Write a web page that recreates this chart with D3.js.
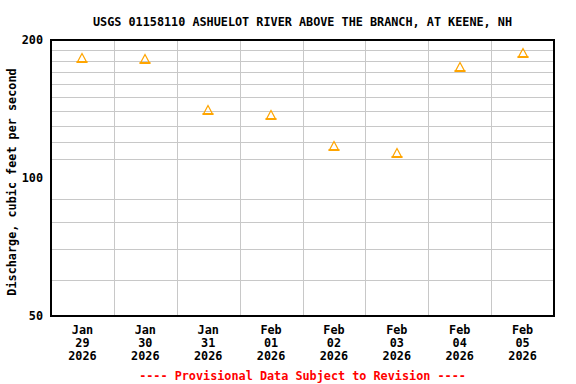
<!DOCTYPE html>
<html>
  <head>
    <title>USGS 01158110</title>
    <script src='https://cdn.jsdelivr.net/npm/d3@7/dist/d3.min.js'></script>
    <style type='text/css'>
      body, html { margin: 0; padding: 0; background: #fff; }
      svg { display: block; }
      text { font-family: 'DejaVu Sans Mono', monospace; font-weight: bold; font-size: 11.8px; }
    </style>
  </head>
  <body>
    <svg width='576' height='384'></svg>
    <script type='text/javascript'>
      // daily mean discharge, cfs
      var months = ['Jan', 'Jan', 'Jan', 'Feb', 'Feb', 'Feb', 'Feb', 'Feb']
      var days = ['29', '30', '31', '01', '02', '03', '04', '05']
      var years = ['2026', '2026', '2026', '2026', '2026', '2026', '2026', '2026']
      var discharge = [183, 181.5, 140.5, 137, 117.5, 113.5, 175, 187]
      var yTicks = [50, 100, 200]
      var yGrid = [60, 70, 80, 90, 110, 120, 130, 140, 150, 160, 170, 180, 190]

      // plot box (window.top is reserved, so use other names)
      var plotL = 51, plotR = 554, plotT = 40, plotB = 316

      var svg = d3.select('svg')

      var x = d3.scaleBand()
        .domain(d3.range(days.length))
        .range([plotL, plotR])
        .padding(0)

      var y = d3.scaleLog()
        .domain([50, 200])
        .range([plotB, plotT])

      // grid
      svg.append('g')
        .attr('shape-rendering', 'crispEdges')
        .selectAll('line')
        .data(yGrid)
        .enter().append('line')
          .attr('x1', plotL).attr('x2', plotR)
          .attr('y1', function(d) { return Math.round(y(d)) + 0.5 })
          .attr('y2', function(d) { return Math.round(y(d)) + 0.5 })
          .attr('stroke', '#c8c8c8')
          .attr('stroke-width', 1)

      svg.append('g')
        .attr('shape-rendering', 'crispEdges')
        .selectAll('line')
        .data(d3.range(1, days.length))
        .enter().append('line')
          .attr('y1', plotT).attr('y2', plotB)
          .attr('x1', function(i) { return Math.round(x(i)) + 0.5 })
          .attr('x2', function(i) { return Math.round(x(i)) + 0.5 })
          .attr('stroke', '#c8c8c8')
          .attr('stroke-width', 1)

      // frame
      svg.append('rect')
        .attr('x', plotL).attr('y', plotT)
        .attr('width', plotR - plotL).attr('height', plotB - plotT)
        .attr('fill', 'none')
        .attr('stroke', '#000')
        .attr('stroke-width', 2)
        .attr('shape-rendering', 'crispEdges')

      // points
      var pts = svg.append('g')
        .selectAll('g')
        .data(discharge)
        .enter().append('g')
          .attr('transform', function(d, i) {
            return 'translate(' + Math.round(x(i) + x.bandwidth() / 2) + ',' + Math.round(y(d)) + ')'
          })

      pts.append('path')
        .attr('d', 'M0,-4.5L4.5,4L-4.5,4Z')
        .attr('fill', 'none')
        .attr('stroke', '#ffa500')
        .attr('stroke-width', 1.2)

      pts.append('line')
        .attr('x1', -5.5).attr('x2', 5.5)
        .attr('y1', 4).attr('y2', 4)
        .attr('stroke', '#ffa500')
        .attr('stroke-width', 2)

      // y tick labels
      svg.append('g')
        .selectAll('text')
        .data(yTicks)
        .enter().append('text')
          .attr('x', 43)
          .attr('y', function(d) { return y(d) + 4 })
          .attr('text-anchor', 'end')
          .text(function(d) { return d })

      // x tick labels
      var xl = svg.append('g')
        .selectAll('text')
        .data(days)
        .enter().append('text')
          .attr('text-anchor', 'middle')
          .attr('transform', function(d, i) { return 'translate(' + (x(i) + x.bandwidth() / 2) + ',0)' })

      xl.append('tspan').attr('x', 0).attr('y', 334).text(function(d, i) { return months[i] })
      xl.append('tspan').attr('x', 0).attr('y', 347).text(function(d) { return d })
      xl.append('tspan').attr('x', 0).attr('y', 360).text(function(d, i) { return years[i] })

      // titles
      svg.append('text')
        .attr('x', (plotL + plotR) / 2)
        .attr('y', 26)
        .attr('text-anchor', 'middle')
        .text('USGS 01158110 ASHUELOT RIVER ABOVE THE BRANCH, AT KEENE, NH')

      svg.append('text')
        .attr('transform', 'translate(16,' + ((plotT + plotB) / 2 + 4) + ') rotate(-90)')
        .attr('text-anchor', 'middle')
        .text('Discharge, cubic feet per second')

      svg.append('text')
        .attr('x', (plotL + plotR) / 2)
        .attr('y', 380)
        .attr('text-anchor', 'middle')
        .attr('fill', '#ff0000')
        .text('---- Provisional Data Subject to Revision ----')
    </script>
  </body>
</html>
